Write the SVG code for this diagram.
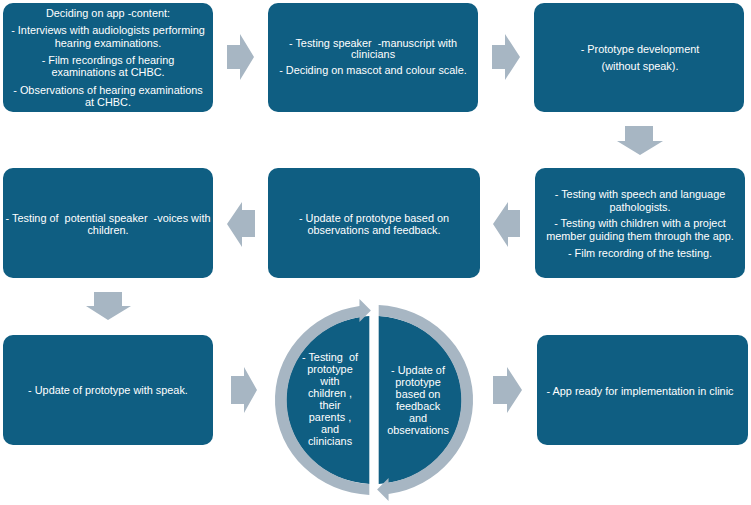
<svg xmlns="http://www.w3.org/2000/svg" width="751" height="505" viewBox="0 0 751 505">
<defs>
<style>
.box{fill:#0F5E82;}
.arr{fill:#A7B6C3;}
.t{font-family:"Liberation Sans",Arial,sans-serif;font-size:10.9px;fill:#FFFFFF;text-anchor:middle;white-space:pre;}
</style>
</defs>
<rect width="751" height="505" fill="#FFFFFF"/>
<g id="connectors">
<polygon class="arr" points="227,45 240,45 240,34 254,57 240,80 240,69 227,69"/>
<polygon class="arr" points="492,45 505,45 505,34 520,57 505,80 505,69 492,69"/>
<polygon class="arr" points="625,126 653,126 653,141 663,141 640,155 617,141 625,141"/>
<polygon class="arr" points="520,210 508,210 508,202 493,224 508,247 508,237 520,237"/>
<polygon class="arr" points="255,210 242,210 242,202 227,224 242,247 242,237 255,237"/>
<polygon class="arr" points="94,292 122,292 122,306 131,306 108,320 86,306 94,306"/>
<polygon class="arr" points="231,376 244,376 244,367 257,390 244,413 244,404 231,404"/>
<polygon class="arr" points="493,376 507,376 507,367 522,390 507,413 507,404 493,404"/>
</g>
<g id="n1">
<rect class="box" x="3" y="3" width="210" height="109" rx="10"/>
<text class="t" x="108" y="17">Deciding on app -content:</text>
<text class="t" x="108" y="34">- Interviews with audiologists performing</text>
<text class="t" x="108" y="47">hearing examinations.</text>
<text class="t" x="108" y="64">- Film recordings of hearing</text>
<text class="t" x="108" y="76">examinations at CHBC.</text>
<text class="t" x="108" y="94">- Observations of hearing examinations</text>
<text class="t" x="108" y="106">at CHBC.</text>
</g>
<g id="n2">
<rect class="box" x="268" y="3" width="210" height="109" rx="10"/>
<text class="t" x="373" y="47">- Testing speaker  -manuscript with</text>
<text class="t" x="373" y="58">clinicians</text>
<text class="t" x="373" y="74">- Deciding on mascot and colour scale.</text>
</g>
<g id="n3">
<rect class="box" x="534" y="3" width="210" height="109" rx="10"/>
<text class="t" x="640" y="53">- Prototype development</text>
<text class="t" x="640" y="70">(without speak).</text>
</g>
<g id="n4">
<rect class="box" x="535" y="168" width="210" height="110" rx="10"/>
<text class="t" x="640" y="198">- Testing with speech and language</text>
<text class="t" x="640" y="211">pathologists.</text>
<text class="t" x="640" y="227">- Testing with children with a project</text>
<text class="t" x="640" y="240">member guiding them through the app.</text>
<text class="t" x="640" y="257">- Film recording of the testing.</text>
</g>
<g id="n5">
<rect class="box" x="268" y="168" width="212" height="110" rx="10"/>
<text class="t" x="374" y="222">- Update of prototype based on</text>
<text class="t" x="374" y="234">observations and feedback.</text>
</g>
<g id="n6">
<rect class="box" x="3" y="168" width="210" height="110" rx="10"/>
<text class="t" x="108" y="222">- Testing of  potential speaker  -voices with</text>
<text class="t" x="108" y="234">children.</text>
</g>
<g id="n7">
<rect class="box" x="3" y="335" width="210" height="110" rx="10"/>
<text class="t" x="108" y="394">- Update of prototype with speak.</text>
</g>
<g id="cycle">
<g transform="translate(374,400) scale(1.04,1)">
<g id="half-left">
<path class="box" d="M -4.5,-83.9 A 84 84 0 0 0 -4.5,83.9 Z"/>
<path class="arr" d="M -4.5,94.9 A 95 95 0 0 1 -14,-94 L -14,-101 L -3,-89.5 L -14,-78 L -14,-82.8 A 84 84 0 0 0 -4.5,83.9 Z"/>
</g>
<g id="half-right" transform="rotate(180)">
<path class="box" d="M -4.5,-83.9 A 84 84 0 0 0 -4.5,83.9 Z"/>
<path class="arr" d="M -4.5,94.9 A 95 95 0 0 1 -14,-94 L -14,-101 L -3,-89.5 L -14,-78 L -14,-82.8 A 84 84 0 0 0 -4.5,83.9 Z"/>
</g>
</g>
<text class="t" x="330" y="361">- Testing  of</text>
<text class="t" x="330" y="373">prototype</text>
<text class="t" x="330" y="385">with</text>
<text class="t" x="330" y="397">children ,</text>
<text class="t" x="330" y="409">their</text>
<text class="t" x="330" y="421">parents ,</text>
<text class="t" x="330" y="433">and</text>
<text class="t" x="330" y="445">clinicians</text>
<text class="t" x="418" y="374">- Update of</text>
<text class="t" x="418" y="386">prototype</text>
<text class="t" x="418" y="398">based on</text>
<text class="t" x="418" y="410">feedback</text>
<text class="t" x="418" y="422">and</text>
<text class="t" x="418" y="434">observations</text>
</g>
<g id="n8">
<rect class="box" x="537" y="335" width="211" height="110" rx="10"/>
<text class="t" x="640" y="395">- App ready for implementation in clinic</text>
</g>
</svg>
